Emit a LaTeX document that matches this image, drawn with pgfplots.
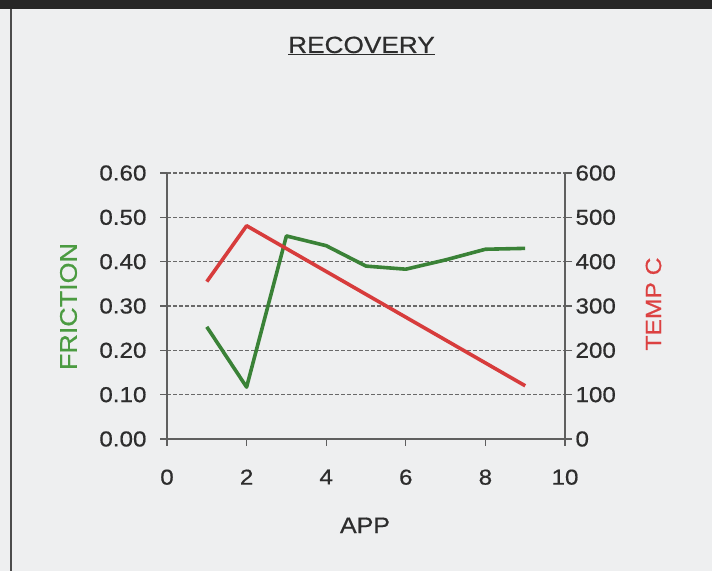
\documentclass[border=0pt]{standalone}
\usepackage{pgfplots}
\pgfplotsset{compat=1.18}
\usepackage{fontspec}
\setmainfont{Liberation Sans}[FakeStretch=1.12, FakeBold=0.6]
\definecolor{paper}{RGB}{238,239,240}
\definecolor{fgreen}{RGB}{58,130,55}
\definecolor{tred}{RGB}{215,60,60}
\definecolor{lblgreen}{RGB}{75,155,65}
\definecolor{lblred}{RGB}{220,65,65}
\definecolor{ink}{RGB}{45,45,45}
\definecolor{axgray}{RGB}{95,95,95}
\definecolor{gridgray}{RGB}{105,105,105}
\begin{document}
\begin{tikzpicture}[font=\fontsize{21.6}{26}\selectfont]
\fill[paper] (0,0) rectangle (712pt,571pt);
\fill[black!85] (0,562pt) rectangle (712pt,571pt);
\draw[black!70, line width=2pt] (11pt,0) -- (11pt,562pt);
\useasboundingbox (0,0) rectangle (712pt,571pt);
\begin{axis}[
  at={(167pt,132pt)}, anchor=south west,
  scale only axis, width=398pt, height=266pt,
  xmin=0, xmax=10, ymin=0, ymax=0.6,
  axis x line*=bottom, axis y line*=left,
  axis line style={axgray, line width=1.2pt, -},
  xtick={0,2,4,6,8,10},
  ytick={0,0.1,0.2,0.3,0.4,0.5,0.6},
  tick align=outside, major tick length=7pt,
  tick style={axgray, line width=1.2pt},
  ymajorgrids,
  major grid style={gridgray, line width=1.1pt, dash pattern=on 3.5pt off 2.5pt},
  /pgf/number format/assume math mode=true,
  y tick label style={/pgf/number format/fixed, /pgf/number format/fixed zerofill, /pgf/number format/precision=2, xshift=-10pt},
  ticklabel style={text=ink},
  xticklabel style={yshift=-20pt},
  title={\fontsize{23.4}{28}\selectfont\underline{RECOVERY}},
  title style={at={(axis description cs:0.4887,1.4286)}, anchor=base, text=ink},
  xlabel={\fontsize{22.3}{27}\selectfont APP},
  xlabel style={at={(axis description cs:0.4975,-0.3534)}, anchor=base, text=ink},
  ylabel={\fontsize{24}{28}\selectfont FRICTION},
  ylabel style={at={(axis description cs:-0.2475,0.498)}, anchor=center, rotate=0, text=lblgreen},
]
\addplot[fgreen, line width=3.6pt, line join=round] coordinates {
  (1,0.253) (2,0.117) (3,0.458) (4,0.436) (5,0.390) (6,0.383) (7,0.404) (8,0.428) (9,0.430)
};
\end{axis}
\begin{axis}[
  at={(167pt,132pt)}, anchor=south west,
  scale only axis, width=398pt, height=266pt,
  xmin=0, xmax=10, ymin=0, ymax=600,
  axis x line=none, axis y line*=right,
  axis line style={axgray, line width=1.2pt, -},
  ytick={0,100,200,300,400,500,600},
  tick align=outside, major tick length=7pt,
  tick style={axgray, line width=1.2pt},
  /pgf/number format/assume math mode=true,
  ticklabel style={text=ink},
  yticklabel style={xshift=0pt},
  ylabel={\fontsize{22}{26}\selectfont TEMP C},
  ylabel style={at={(axis description cs:1.2224,0.5075)}, anchor=center, rotate=0, text=lblred},
]
\addplot[tred, line width=3.6pt, line join=round] coordinates {
  (1,355) (2,481) (9,120)
};
\end{axis}
\end{tikzpicture}
\end{document}
